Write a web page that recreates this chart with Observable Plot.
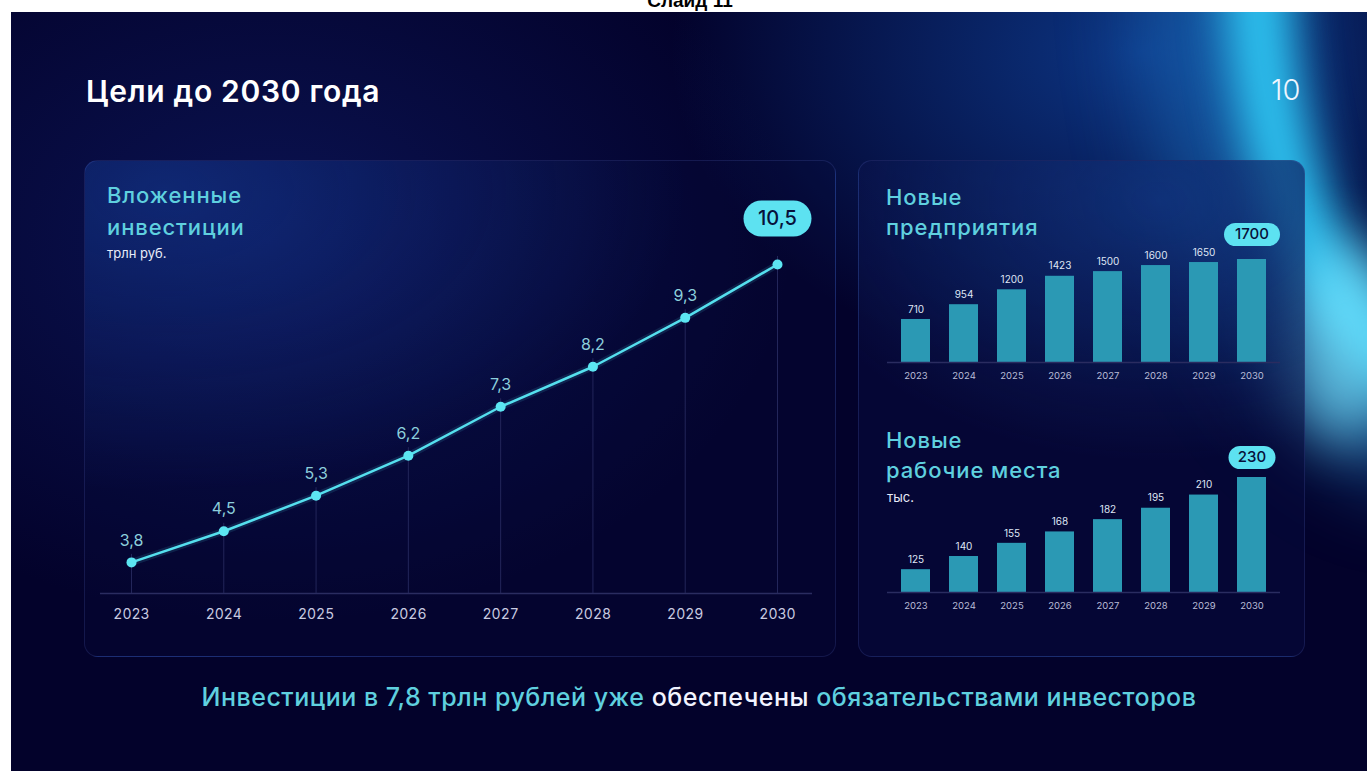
<!DOCTYPE html>
<html><head><meta charset="utf-8">
<script src="https://cdn.jsdelivr.net/npm/d3@7"></script>
<script src="https://cdn.jsdelivr.net/npm/@observablehq/plot@0.6"></script>
<style>
html,body{margin:0;padding:0;}
body{background:#fff;width:1367px;height:771px;overflow:hidden;position:relative;font-family:Inter,"Noto Sans",sans-serif;}
#slidetitle{position:absolute;left:0;width:1380px;top:-10px;text-align:center;font:bold 19px "Liberation Sans",Arial,sans-serif;color:#000;}
#slide{position:absolute;left:11px;top:12px;width:1356px;height:759px;overflow:hidden;
 background:
  radial-gradient(ellipse 470px 330px at 1130px 40px, rgba(15,70,160,0.75), rgba(0,0,0,0) 100%),
  radial-gradient(ellipse 520px 380px at 260px 230px, rgba(20,40,130,0.45), rgba(0,0,0,0) 100%),
  #03022b;}
#haze{position:absolute;left:1130px;top:-600px;width:570px;height:1080px;border-radius:50%;border:150px solid rgba(30,130,210,0.45);box-sizing:border-box;filter:blur(40px);}
#arc{position:absolute;left:1212px;top:-520px;width:470px;height:920px;border-radius:50%;border:66px solid rgba(45,195,240,1);box-sizing:border-box;filter:blur(22px);}
#arc2{position:absolute;left:1275px;top:230px;width:120px;height:200px;border-radius:50%;background:rgba(120,230,255,0.7);filter:blur(28px);}
.panel{position:absolute;border:1px solid rgba(110,130,230,0.16);border-radius:14px;box-sizing:border-box;}
#pL{left:84px;top:160px;width:752px;height:497px;background:radial-gradient(ellipse 520px 300px at 80px 30px, rgba(25,70,170,0.45), rgba(0,0,0,0) 100%), rgba(6,10,60,0.25);}
#pR{left:858px;top:160px;width:447px;height:497px;background:radial-gradient(ellipse 380px 260px at 300px 40px, rgba(25,80,170,0.45), rgba(0,0,0,0) 100%), rgba(6,10,60,0.6);}
.t{position:absolute;white-space:nowrap;line-height:1;}
.h{color:#5fd0df;font-size:22px;font-weight:500;letter-spacing:0.9px;}
.s{color:#e8ecf8;font-size:13px;font-weight:400;}
.plot{position:absolute;}
</style></head>
<body>
<div id="slidetitle">Слайд 11</div>
<div id="slide"><div id="haze"></div><div id="arc"></div><div id="arc2"></div></div>
<div class="panel" id="pL"></div>
<div class="panel" id="pR"></div>
<div class="t" style="left:86px;top:76px;font-size:30px;font-weight:600;letter-spacing:0.7px;color:#fff;">Цели до 2030 года</div>
<div class="t" style="left:1271px;top:75px;font-size:29px;font-weight:300;color:#eef6ff;">10</div>

<div class="t h" style="left:107px;top:184px;">Вложенные</div>
<div class="t h" style="left:107px;top:216px;">инвестиции</div>
<div class="t s" style="left:107px;top:247px;">трлн руб.</div>

<div class="t h" style="left:886px;top:186px;">Новые</div>
<div class="t h" style="left:886px;top:216px;">предприятия</div>

<div class="t h" style="left:886px;top:429px;">Новые</div>
<div class="t h" style="left:886px;top:459px;">рабочие места</div>
<div class="t s" style="left:887px;top:491px;">тыс.</div>

<div class="t" style="left:0;width:1398px;text-align:center;top:685px;font-size:25px;font-weight:500;letter-spacing:0.5px;color:#5fd0df;">Инвестиции в 7,8 трлн рублей уже <span style="color:#f2f4ff">обеспечены</span> обязательствами инвесторов</div>

<div class="plot" id="line" style="left:84px;top:160px;"></div>
<div class="plot" id="bars1" style="left:858px;top:170px;"></div>
<div class="plot" id="bars2" style="left:858px;top:400px;"></div>

<script>
// ---- data ----
const years = [2023, 2024, 2025, 2026, 2027, 2028, 2029, 2030];
const investments = [3.8, 4.5, 5.3, 6.2, 7.3, 8.2, 9.3, 10.5];
const enterprises = [710, 954, 1200, 1423, 1500, 1600, 1650, 1700];
const jobs = [125, 140, 155, 168, 182, 195, 210, 230];

const inv = years.map((year, i) => ({year, value: investments[i]}));
const ent = years.map((year, i) => ({year, value: enterprises[i]}));
const job = years.map((year, i) => ({year, value: jobs[i]}));

const fmt = v => String(v).replace(".", ",");
const pill = (w, h) => ({
  draw(ctx) {
    const r = h / 2, a = w / 2 - r;
    ctx.moveTo(-a, -r);
    ctx.lineTo(a, -r);
    ctx.arc(a, 0, r, -Math.PI / 2, Math.PI / 2);
    ctx.lineTo(-a, r);
    ctx.arc(-a, 0, r, Math.PI / 2, Math.PI * 1.5);
    ctx.closePath();
  }
});

const CYAN = "#55dfee";
const AXIS = "#2a2c60";
const FONT = "Inter, 'Noto Sans', sans-serif";

// ---- line chart ----
const invMin = 3.1;
const lastInv = inv[inv.length - 1];
const line = Plot.plot({
  width: 752, height: 497,
  marginLeft: 16, marginRight: 24, marginTop: 104, marginBottom: 64,
  style: {background: "transparent", fontFamily: FONT, fontSize: "14px", color: "#c9cbe0", overflow: "visible"},
  x: {type: "linear", domain: [2023, 2030], insetLeft: 31, insetRight: 35},
  y: {domain: [invMin, 10.5], axis: null},
  marks: [
    Plot.ruleY([invMin], {stroke: AXIS, strokeWidth: 1.5}),
    Plot.ruleX(inv, {x: "year", y1: invMin, y2: "value", stroke: "#23265a", strokeWidth: 1, insetBottom: 8}),
    Plot.line(inv, {x: "year", y: "value", stroke: CYAN, strokeWidth: 7, strokeOpacity: 0.12}),
    Plot.line(inv, {x: "year", y: "value", stroke: CYAN, strokeWidth: 2.5}),
    Plot.dot(inv, {x: "year", y: "value", r: 5, fill: "#5ce6f2"}),
    Plot.text(inv.slice(0, -1), {x: "year", y: "value", text: d => fmt(d.value), dy: -22, fill: "#8ccfdc", fontSize: 16}),
    Plot.dot([lastInv], {x: "year", y: "value", dy: -46, symbol: pill(68, 36), r: 10, fill: "#5de2f1"}),
    Plot.text([lastInv], {x: "year", y: "value", dy: -46, text: d => fmt(d.value), fill: "#07113a", fontSize: 20, fontWeight: 500}),
    Plot.axisX({ticks: years, tickFormat: d => String(d), tickSize: 0, tickPadding: 16, fill: "#c9cbe0", label: null})
  ]
});
document.getElementById("line").appendChild(line);

// ---- bar charts ----
function bars(data, yDomain, marginTop, pillW, pillDy) {
  const base = yDomain[0];
  const last = data[data.length - 1];
  return Plot.plot({
    width: 447, height: 225,
    marginLeft: 29, marginRight: 25, marginTop, marginBottom: 33,
    style: {background: "transparent", fontFamily: FONT, fontSize: "9.5px", color: "#b9bcd6", overflow: "visible"},
    x: {type: "band", domain: years, paddingInner: 0.386, paddingOuter: 0.215, label: null},
    y: {domain: yDomain, axis: null},
    marks: [
      Plot.barY(data, {x: "year", y1: base, y2: "value", fill: "#2b99b4"}),
      Plot.ruleY([base], {stroke: AXIS, strokeWidth: 1.5}),
      Plot.text(data.slice(0, -1), {x: "year", y: "value", dy: -10, text: d => String(d.value), fill: "#dfe5f4", fontSize: 10}),
      Plot.dot([last], {x: "year", y: "value", dy: pillDy, symbol: pill(pillW, 23), r: 10, fill: "#5de2f1"}),
      Plot.text([last], {x: "year", y: "value", dy: pillDy, text: d => String(d.value), fill: "#07113a", fontSize: 15, fontWeight: 500}),
      Plot.axisX({tickFormat: d => String(d), tickSize: 0, tickPadding: 10, fill: "#b9bcd6", label: null})
    ]
  });
}
document.getElementById("bars1").appendChild(bars(ent, [0, 1700], 89, 56, -25));
document.getElementById("bars2").appendChild(bars(job, [99, 230], 77, 47, -20));
</script>
</body></html>
